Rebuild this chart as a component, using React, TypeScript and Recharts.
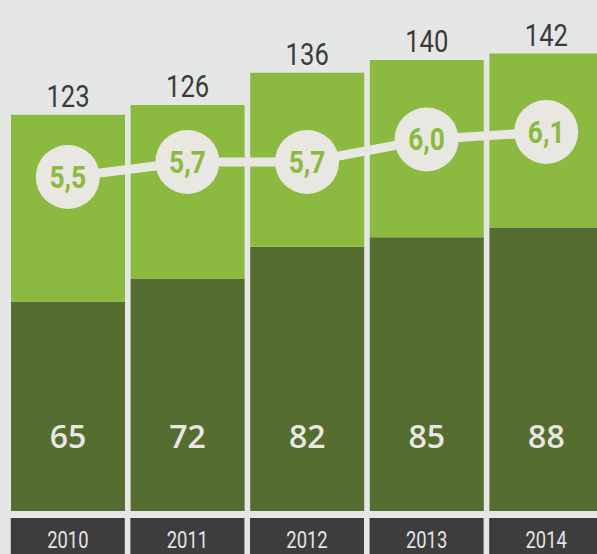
import { ComposedChart, Bar, Line, XAxis, YAxis, LabelList } from "recharts";

const years = ["2010", "2011", "2012", "2013", "2014"];
const totals = [123, 126, 136, 140, 142];
const darkValues = [65, 72, 82, 85, 88];
const ratios = [5.5, 5.7, 5.7, 6.0, 6.1];

const data = years.map((year, i) => ({
  year,
  dark: darkValues[i],
  light: totals[i] - darkValues[i],
  ratio: ratios[i],
}));

const BG = "#e5e7e6";
const LIGHT = "#8cba41";
const DARK = "#566d32";
const CREAM = "#e9e7e1";
const FONT = "Roboto, 'Liberation Sans', sans-serif";

// condensed look: squeeze the glyphs horizontally
const Narrow = ({ x, y, scale, children, ...rest }: any) => (
  <text transform={`translate(${x},${y}) scale(${scale},1)`} x={0} y={0} textAnchor="middle" fontFamily={FONT} {...rest}>
    {children}
  </text>
);

const YearTick = (props: any) => {
  const { x, y, payload } = props;
  return (
    <g>
      <rect x={x - 57} y={y + 7} width={114} height={50} fill="#3d3d3d" />
      <Narrow x={x} y={y + 37} scale={0.8} fill="#e4e4e4" fontSize={23}>
        {payload.value}
      </Narrow>
    </g>
  );
};

const RatioDot = (props: any) => {
  const { cx, cy, index } = props;
  return (
    <g key={"dot-" + index}>
      <circle cx={cx} cy={cy} r={32} fill={CREAM} />
      <Narrow x={cx} y={cy + 11} scale={0.85} fill={LIGHT} fontSize={31} fontWeight={700}>
        {ratios[index].toFixed(1).replace(".", ",")}
      </Narrow>
    </g>
  );
};

const DarkLabel = (props: any) => {
  const { x, y, width, height, index } = props;
  return (
    <text x={x + width / 2} y={y + height - 63} textAnchor="middle" fill={CREAM} fontSize={32} fontWeight={600} fontFamily="'Open Sans', sans-serif">
      {darkValues[index]}
    </text>
  );
};

const TotalLabel = (props: any) => {
  const { x, y, width, index } = props;
  return (
    <Narrow x={x + width / 2} y={y - 8} scale={0.8} fill="#3b3b3b" fontSize={32}>
      {totals[index]}
    </Narrow>
  );
};

export default function App() {
  return (
    <div style={{ position: "fixed", left: 0, top: 0, width: 597, height: 554, overflow: "hidden", background: BG }}>
      <ComposedChart width={610} height={560} data={data} margin={{ top: 2, right: 4, left: 8, bottom: 6 }}>
        <XAxis dataKey="year" axisLine={false} tickLine={false} tickSize={0} tickMargin={0} height={43} tick={<YearTick />} interval={0} />
        <YAxis yAxisId="bars" hide domain={[0, 158]} />
        <YAxis yAxisId="ratio" orientation="right" hide domain={[1.047, 7.833]} allowDataOverflow />
        <Bar yAxisId="bars" dataKey="dark" stackId="a" fill={DARK} barSize={114} isAnimationActive={false}>
          <LabelList dataKey="dark" content={<DarkLabel />} />
        </Bar>
        <Bar yAxisId="bars" dataKey="light" stackId="a" fill={LIGHT} barSize={114} isAnimationActive={false}>
          <LabelList dataKey="light" content={<TotalLabel />} />
        </Bar>
        <Line
          yAxisId="ratio"
          dataKey="ratio"
          stroke={CREAM}
          strokeWidth={9}
          type="linear"
          dot={RatioDot}
          activeDot={false}
          isAnimationActive={false}
        />
      </ComposedChart>
    </div>
  );
}
